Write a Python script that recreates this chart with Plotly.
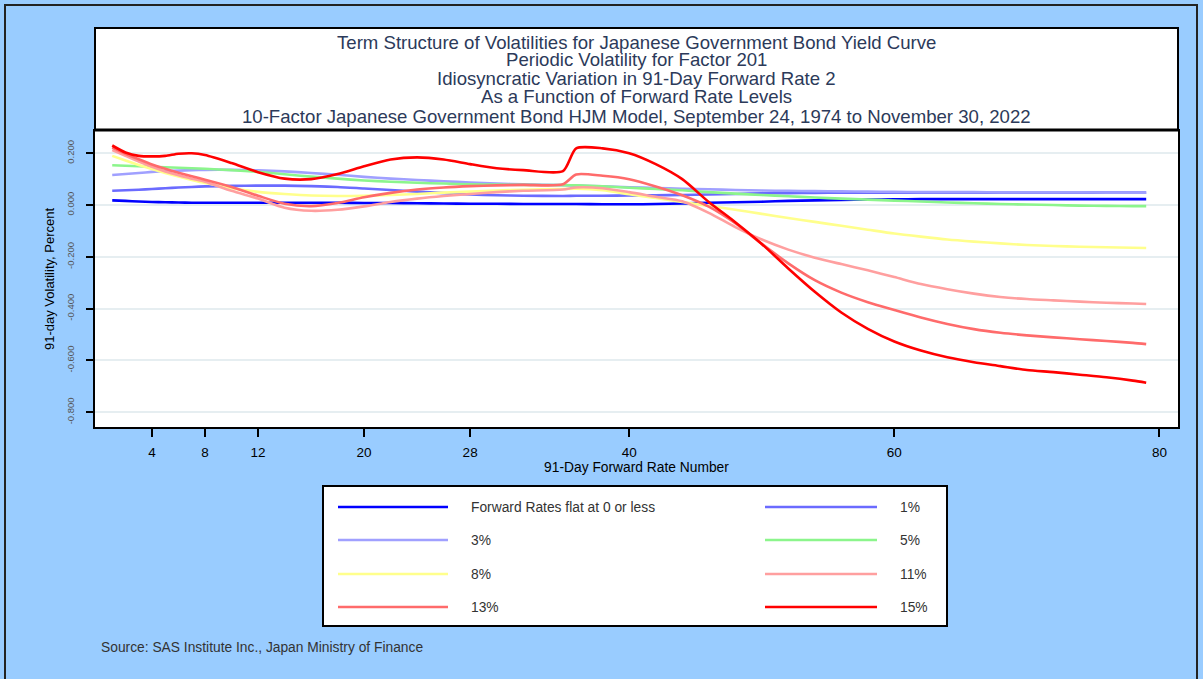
import plotly.graph_objects as go

# ---------------- data ----------------
forward_rate = [1, 2, 3, 4, 5, 6, 7, 8, 10, 12, 14, 16, 18, 20, 22, 24, 26, 28, 30, 32,
                35, 36, 38, 40, 42, 44, 46, 48, 50, 52, 54, 56, 58, 60,
                62, 64, 66, 68, 70, 72, 74, 76, 78, 79]

vol_flat0 = [0.018, 0.016, 0.014, 0.012, 0.011, 0.010, 0.009, 0.009,
             0.009, 0.009, 0.009, 0.009, 0.009, 0.008, 0.008, 0.007, 0.006, 0.005, 0.005, 0.004,
             0.004, 0.004, 0.003, 0.003, 0.004, 0.006, 0.009, 0.011, 0.013, 0.016, 0.018, 0.020, 0.021, 0.022,
             0.023, 0.023, 0.023, 0.023, 0.023, 0.023, 0.023, 0.023, 0.023, 0.023]
vol_1pct = [0.055, 0.057, 0.059, 0.062, 0.065, 0.068, 0.070, 0.072,
            0.074, 0.075, 0.075, 0.073, 0.070, 0.064, 0.058, 0.052, 0.046, 0.041, 0.038, 0.036,
            0.035, 0.036, 0.036, 0.037, 0.038, 0.039, 0.041, 0.043, 0.045, 0.046, 0.047, 0.048, 0.048, 0.048,
            0.048, 0.048, 0.048, 0.048, 0.048, 0.048, 0.048, 0.048, 0.048, 0.048]
vol_3pct = [0.116, 0.120, 0.124, 0.128, 0.131, 0.133, 0.135, 0.136,
            0.136, 0.134, 0.130, 0.124, 0.117, 0.109, 0.102, 0.097, 0.092, 0.087, 0.083, 0.080,
            0.077, 0.075, 0.072, 0.069, 0.066, 0.063, 0.061, 0.058, 0.056, 0.055, 0.054, 0.053, 0.052, 0.051,
            0.050, 0.050, 0.050, 0.049, 0.049, 0.049, 0.049, 0.048, 0.048, 0.048]
vol_5pct = [0.154, 0.152, 0.150, 0.148, 0.146, 0.144, 0.142, 0.140,
            0.135, 0.128, 0.119, 0.110, 0.102, 0.095, 0.090, 0.086, 0.083, 0.080, 0.079, 0.078,
            0.077, 0.076, 0.072, 0.067, 0.062, 0.057, 0.050, 0.044, 0.039, 0.034, 0.029, 0.025, 0.021, 0.017,
            0.014, 0.010, 0.007, 0.004, 0.002, 0.000, -0.002, -0.003, -0.004, -0.004]
vol_8pct = [0.190, 0.172, 0.155, 0.139, 0.124, 0.110, 0.097, 0.085,
            0.065, 0.051, 0.043, 0.037, 0.035, 0.036, 0.039, 0.043, 0.048, 0.052, 0.056, 0.059,
            0.062, 0.063, 0.057, 0.042, 0.027, 0.012, -0.003, -0.018, -0.034, -0.050, -0.065, -0.080, -0.095, -0.110,
            -0.122, -0.133, -0.141, -0.148, -0.154, -0.158, -0.161, -0.163, -0.165, -0.166]
vol_11pct = [0.212, 0.190, 0.168, 0.148, 0.130, 0.115, 0.102, 0.090,
             0.055, 0.025, -0.010, -0.022, -0.018, -0.005, 0.012, 0.025, 0.035, 0.043, 0.050, 0.055,
             0.060, 0.068, 0.065, 0.050, 0.032, 0.015, -0.030, -0.085, -0.133, -0.172, -0.203, -0.228, -0.252, -0.278,
             -0.305, -0.325, -0.342, -0.355, -0.363, -0.368, -0.373, -0.377, -0.380, -0.382]
vol_13pct = [0.222, 0.198, 0.177, 0.157, 0.140, 0.125, 0.111, 0.098,
             0.070, 0.036, 0.005, -0.004, 0.008, 0.030, 0.047, 0.060, 0.068, 0.073, 0.076, 0.078,
             0.080, 0.118, 0.113, 0.100, 0.072, 0.038, -0.006, -0.070, -0.150, -0.225, -0.290, -0.338, -0.375, -0.405,
             -0.434, -0.459, -0.479, -0.493, -0.503, -0.511, -0.518, -0.525, -0.532, -0.537]
vol_15pct = [0.230, 0.203, 0.190, 0.188, 0.190, 0.198, 0.200, 0.193,
             0.162, 0.127, 0.102, 0.100, 0.120, 0.150, 0.176, 0.184, 0.176, 0.158, 0.142, 0.135,
             0.131, 0.219, 0.219, 0.200, 0.158, 0.100, 0.012, -0.066, -0.150, -0.245, -0.335, -0.415, -0.478, -0.527,
             -0.562, -0.588, -0.607, -0.622, -0.637, -0.645, -0.655, -0.665, -0.678, -0.686]

series_names = ["Forward Rates flat at 0 or less", "1%", "3%", "5%", "8%", "11%", "13%", "15%"]
series_values = [vol_flat0, vol_1pct, vol_3pct, vol_5pct, vol_8pct, vol_11pct, vol_13pct, vol_15pct]
series_colors = ["#0000ff", "#6b6bff", "#a0a0ff", "#8cf58c", "#ffff8c", "#ff9f9f", "#ff6b6b", "#ff0000"]

x_tickvals = [4, 8, 12, 20, 28, 40, 60, 80]
y_tickvals = [0.2, 0.0, -0.2, -0.4, -0.6, -0.8]
y_ticktext = ["0.200", "0.000", "-0.200", "-0.400", "-0.600", "-0.800"]

title_lines = [
    "Term Structure of Volatilities for Japanese Government Bond Yield Curve",
    "Periodic Volatility for Factor 201",
    "Idiosyncratic Variation in 91-Day Forward Rate 2",
    "As a Function of Forward Rate Levels",
    "10-Factor Japanese Government Bond HJM Model, September 24, 1974 to November 30, 2022",
]

# ---------------- layout geometry (pixels) ----------------
W, H = 1203, 679
ML, MR, MT, MB = 95, 25, 131, 252
PW, PH = W - ML - MR, H - MT - MB


def px_x(p):
    return (p - ML) / PW


def px_y(p):
    return (H - MB - p) / PH


FONT = "Liberation Sans, Arial, sans-serif"

fig = go.Figure()
for name, vals, col in zip(series_names, series_values, series_colors):
    fig.add_trace(go.Scatter(
        x=forward_rate, y=vals, mode="lines", name=name,
        line=dict(color=col, width=2.6, shape="spline", smoothing=0.7),
        showlegend=False, hoverinfo="skip",
    ))

shapes = []
annotations = []

# outer page border
shapes.append(dict(type="rect", xref="paper", yref="paper",
                   x0=px_x(5), x1=px_x(1197), y0=px_y(700), y1=px_y(5),
                   line=dict(color="#222222", width=2), fillcolor="rgba(0,0,0,0)", layer="below"))
# title box
shapes.append(dict(type="rect", xref="paper", yref="paper",
                   x0=0, x1=1, y0=px_y(130), y1=px_y(28),
                   line=dict(color="black", width=2), fillcolor="white", layer="below"))
# thick line separating title box and plot
shapes.append(dict(type="line", xref="paper", yref="paper",
                   x0=0, x1=1, y0=px_y(130), y1=px_y(130),
                   line=dict(color="black", width=3)))

title_y = [42, 60, 78, 97, 116]
for t, ty in zip(title_lines, title_y):
    annotations.append(dict(text=t, xref="paper", yref="paper", x=px_x(636.5), y=px_y(ty),
                            xanchor="center", yanchor="middle", showarrow=False,
                            font=dict(family=FONT, size=18.6, color="#2c3a5a")))

# legend box
shapes.append(dict(type="rect", xref="paper", yref="paper",
                   x0=px_x(323), x1=px_x(947), y0=px_y(626), y1=px_y(486),
                   line=dict(color="black", width=2), fillcolor="white", layer="below"))
row_y = [507, 540, 574, 607]
col_line = [(338, 448), (765, 877)]
col_text = [469, 898]
for i, (name, col) in enumerate(zip(series_names, series_colors)):
    r, c = divmod(i, 2)
    y = px_y(row_y[r])
    shapes.append(dict(type="line", xref="paper", yref="paper",
                       x0=px_x(col_line[c][0]), x1=px_x(col_line[c][1]), y0=y, y1=y,
                       line=dict(color=col, width=2.6)))
    annotations.append(dict(text=name, xref="paper", yref="paper", x=px_x(col_text[c]), y=y,
                            xanchor="left", yanchor="middle", showarrow=False,
                            font=dict(family=FONT, size=13.8, color="#333333")))

annotations.append(dict(text="Source: SAS Institute Inc., Japan Ministry of Finance",
                        xref="paper", yref="paper", x=px_x(99), y=px_y(647),
                        xanchor="left", yanchor="middle", showarrow=False,
                        font=dict(family=FONT, size=13.8, color="#333333")))

fig.update_layout(
    width=W, height=H,
    margin=dict(l=ML, r=MR, t=MT, b=MB, pad=0),
    paper_bgcolor="#99ccff",
    plot_bgcolor="white",
    font=dict(family=FONT, color="black"),
    shapes=shapes,
    annotations=annotations,
    showlegend=False,
    hovermode=False,
)

fig.update_xaxes(
    range=[-0.3, 81.4], tickvals=x_tickvals, ticktext=[str(v) for v in x_tickvals],
    ticks="outside", ticklen=8, tickwidth=2, tickcolor="black",
    showline=True, linecolor="black", linewidth=2, mirror=True,
    showgrid=False, zeroline=False,
    tickfont=dict(family=FONT, size=13.5, color="black"), ticklabelstandoff=4,
    title=dict(text="91-Day Forward Rate Number", font=dict(family=FONT, size=13.8, color="black"), standoff=2),
)
fig.update_yaxes(
    range=[-0.857, 0.286], tickvals=y_tickvals, ticktext=y_ticktext,
    ticks="outside", ticklen=7, tickwidth=2, tickcolor="black",
    showline=True, linecolor="black", linewidth=2, mirror=True,
    showgrid=True, gridcolor="#e6eef1", gridwidth=2, zeroline=False,
    tickangle=-90, tickfont=dict(family=FONT, size=9.5, color="#555555"), ticklabelstandoff=8,
    title=dict(text="91-day Volatility, Percent", font=dict(family=FONT, size=13, color="black"), standoff=8),
)

fig.write_html(
    "out.html",
    config={"displayModeBar": False},
    post_script="document.body.style.margin='0';document.body.style.background='#99ccff';",
)
